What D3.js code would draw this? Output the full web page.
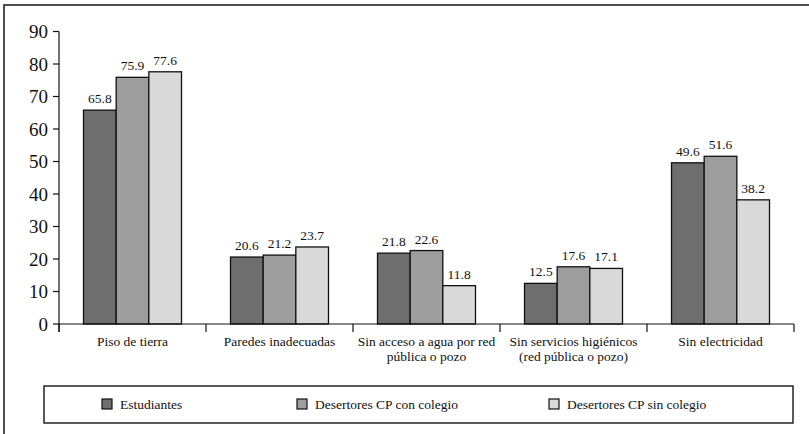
<!DOCTYPE html>
<html><head><meta charset="utf-8">
<script src="https://cdn.jsdelivr.net/npm/d3@7"></script>
<style>body{margin:0;background:#fff}svg{display:block}</style>
</head><body>
<svg id="c" width="809" height="434"></svg>
<script>
const categories = [["Piso de tierra"],["Paredes inadecuadas"],["Sin acceso a agua por red","pública o pozo"],["Sin servicios higiénicos","(red pública o pozo)"],["Sin electricidad"]];
const seriesNames = ["Estudiantes","Desertores CP con colegio","Desertores CP sin colegio"];
const estudiantes = [65.8,20.6,21.8,12.5,49.6];
const conColegio = [75.9,21.2,22.6,17.6,51.6];
const sinColegio = [77.6,23.7,11.8,17.1,38.2];
const yTicks = [0,10,20,30,40,50,60,70,80,90];
const colors = ["#6e6e6e","#9d9d9d","#d9d9d9"];

const FONT = "Liberation Serif";
const series = [estudiantes, conColegio, sinColegio];
const svg = d3.select("#c");

// outer frame
svg.append("rect").attr("x",4).attr("y",5).attr("width",830).attr("height",460)
  .attr("fill","none").attr("stroke","#222").attr("stroke-width",1.6);

const x0 = d3.scaleBand().domain(d3.range(categories.length)).range([59,794]).paddingInner(0).paddingOuter(0);
const x1 = d3.scaleBand().domain(d3.range(3)).range([0,98]);
const y = d3.scaleLinear().domain([0,90]).range([324,31.5]);

// y axis
const ya = svg.append("g");
ya.append("line").attr("x1",59).attr("x2",59).attr("y1",y(90)).attr("y2",332).attr("stroke","#111").attr("stroke-width",1.2);
ya.selectAll("line.t").data(yTicks).join("line").attr("class","t")
  .attr("x1",53).attr("x2",59).attr("y1",d=>y(d)).attr("y2",d=>y(d)).attr("stroke","#111").attr("stroke-width",1.2);
ya.selectAll("text").data(yTicks).join("text")
  .attr("x",48).attr("y",d=>y(d)).attr("dy","0.35em").attr("text-anchor","end")
  .style("font-family",FONT).attr("font-size",19).attr("fill","#111").text(d=>d);

// bars
const g = svg.append("g");
categories.forEach((c,i)=>{
  const gx = x0(i) + (x0.bandwidth()-98)/2;
  series.forEach((s,j)=>{
    g.append("rect").attr("x",gx+x1(j)).attr("y",y(s[i])).attr("width",x1.bandwidth()).attr("height",y(0)-y(s[i]))
      .attr("fill",colors[j]).attr("stroke","#111").attr("stroke-width",1.3);
    g.append("text").attr("x",gx+x1(j)+x1.bandwidth()/2).attr("y",y(s[i])-7)
      .attr("text-anchor","middle").style("font-family",FONT).attr("font-size",13.5).attr("fill","#111").text(s[i].toFixed(1));
  });
});

// x axis
svg.append("line").attr("x1",59).attr("x2",794).attr("y1",y(0)).attr("y2",y(0)).attr("stroke","#111").attr("stroke-width",1.2);
const bounds = d3.range(categories.length+1).map(i=> i<categories.length ? x0(i) : x0(i-1)+x0.bandwidth());
svg.selectAll("line.xt").data(bounds).join("line").attr("class","xt")
  .attr("x1",d=>d).attr("x2",d=>d).attr("y1",y(0)).attr("y2",332).attr("stroke","#111").attr("stroke-width",1.2);
categories.forEach((c,i)=>{
  const t = svg.append("text").attr("x",x0(i)+x0.bandwidth()/2).attr("y",346).attr("text-anchor","middle")
    .style("font-family",FONT).attr("font-size",13.5).attr("fill","#111");
  c.forEach((line,k)=> t.append("tspan").attr("x",x0(i)+x0.bandwidth()/2).attr("dy",k===0?0:15).text(line));
});

// legend
svg.append("rect").attr("x",44).attr("y",386).attr("width",749).attr("height",37)
  .attr("fill","#fff").attr("stroke","#222").attr("stroke-width",1.5);
const legX = [102,297,549];
seriesNames.forEach((n,j)=>{
  svg.append("rect").attr("x",legX[j]).attr("y",399).attr("width",10).attr("height",10)
    .attr("fill",colors[j]).attr("stroke","#111").attr("stroke-width",1.2);
  svg.append("text").attr("x",legX[j]+18).attr("y",404).attr("dy","0.35em").style("font-family",FONT)
    .attr("font-size",13.5).attr("fill","#111").text(n);
});
</script>
</body></html>
